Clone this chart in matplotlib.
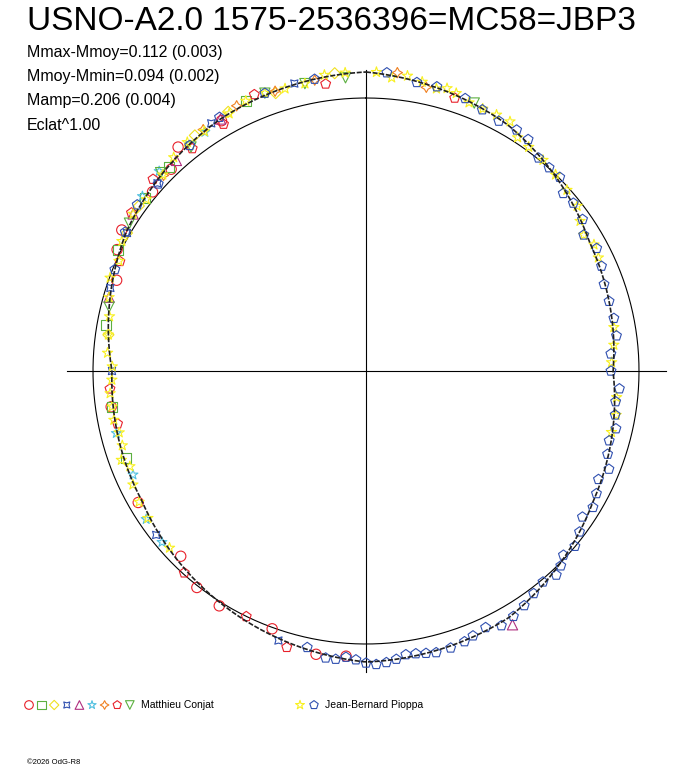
import matplotlib
matplotlib.use('Agg')
import matplotlib.pyplot as plt
import numpy as np

plt.rcParams['font.family'] = ['Liberation Sans', 'DejaVu Sans']

# mean light curve (radius in px, angle clockwise from top in degrees)
knot_angle = [0, 30, 60, 90, 120, 150, 180, 210, 240, 270, 300, 330, 360]
knot_radius = [299, 284, 258, 247, 262, 285, 291, 275, 259, 254, 277, 291, 299]

# Jean-Bernard Pioppa
jb_pent_angle = [20, 28, 35, 42, 48, 55, 62, 70, 78, 86, 94, 100, 106, 112, 118, 124, 130,
                 135, 140, 146, 152, 158, 163, 168, 172, 176, 180, 184, 188, 10, 4, 350, 330, 312, 300,
                 24, 32, 39, 45, 51, 58, 66, 74, 82, 90, 97, 103, 109, 115, 121, 127, 133, 137,
                 143, 149, 155, 160, 166, 170, 174, 178, 182, 186, 192, 14, 340, 322, 306, 292]
jb_pent_res = [1, -2, 3, 0, -3, 2, 4, -1, 2, -3, 5, 1, -2, 4, 0, -4, 3, 2, -2, 1, 3, -1, 2, 0,
               -3, 2, 1, -2, 3, -1, 2, 0, 2, -3, 1,
               -1, 2, -2, 3, 1, -3, 2, 0, 3, -2, 1, 3, -1, -3, 2, 0, -2, 4, -1, 2, -3, 1, 2,
               -2, 0, 3, -1, 2, -2, 1, 2, -1, 3, 0]
jb_star_angle = [2, 8, 14, 18, 24, 30, 36, 44, 52, 58, 64, 352, 344, 336, 326, 318, 308, 298,
                 290, 282, 274, 268, 262, 256, 250, 244, 96, 104, 84, 248, 236,
                 5, 11, 16, 21, 27, 33, 40, 48, 55, 61, 356, 348, 340, 332, 322, 314, 304, 294,
                 286, 278, 271, 265, 259, 253, 240, 228, 80, 88, 100]
jb_star_res = [1, 3, -1, 2, 0, 4, -2, 1, 3, -3, 2, 2, -1, 3, 0, 2, -2, 1, 3, -1, 2, 0, 1, -2,
               3, 1, 2, -1, 0, -3, 2,
               -2, 1, 3, -1, 2, -3, 0, 2, -1, 3, 1, -2, 2, 0, 3, -1, 2, -2, 1, 0, -1, 2, 1,
               -2, 3, -1, 1, -2, 2]

# Matthieu Conjat series
mc_series = [
    ('o', '#e8202a', [290, 300, 310, 320, 330, 240, 225, 212, 200, 190, 296, 316, 262, 218, 184],
     [-4, 5, -3, 6, -2, 4, -5, 3, -6, 2, 3, -4, 2, 4, -3]),
    ('s', '#5cb040', [296, 316, 336, 262, 250, 308, 280], [2, -1, 3, 1, -2, 0, 2]),
    ('D', '#f0e020', [306, 324, 342, 354, 278, 300, 332], [1, 3, -2, 2, 0, -1, 2]),
    ((4, 1, 45), '#3050b0', [300, 328, 346, 270, 232, 312, 288, 198], [-1, 2, 1, 0, 3, -2, 1, 2]),
    ('^', '#b03080', [304, 318, 286, 150, 330], [2, -2, 1, 8, 0]),
    ('*', '#50c0e0', [308, 326, 230, 236, 246, 256, 314], [3, -1, 2, 4, -3, 1, 4]),
    ((4, 1, 0), '#f08020', [314, 334, 350, 6, 12, 326, 342], [-2, 3, -1, 4, -3, 2, 0]),
    ('p', '#e8202a', [294, 312, 330, 338, 352, 18, 222, 206, 196, 266, 258, 304, 322],
     [-3, 4, -6, 5, -7, -3, 3, -4, 5, 2, -2, 4, -5]),
    ('v', '#5cb040', [302, 322, 340, 356, 22, 284, 314, 348], [1, -3, 2, -4, 1, 0, 2, -2]),
]

cx, cy = 366, 371
ref_r = 273


def curve(a):
    return np.interp(np.asarray(a) % 360, knot_angle, knot_radius)


def to_xy(a, r):
    t = np.radians(a)
    return cx + r * np.sin(t), cy - r * np.cos(t)


def size(m, k=1.0):
    return (32 if m == 'D' else 55) * k


fig = plt.figure(figsize=(6.88, 7.68), dpi=100)
ax = fig.add_axes([0, 0, 1, 1])
ax.set_xlim(0, 688)
ax.set_ylim(768, 0)
ax.axis('off')

# axes cross and reference circle
ax.plot([67, 666], [cy, cy], color='black', lw=0.8)
ax.plot([cx, cx], [70, 672], color='black', lw=0.8)
th = np.linspace(0, 360, 400)
x, y = to_xy(th, ref_r)
ax.plot(x, y, color='black', lw=0.8)

mk = dict(facecolors='none', linewidths=0.8, zorder=3)
for m, c, ang, res in mc_series:
    a = np.array(ang)
    px, py = to_xy(a, curve(a) + np.array(res))
    ax.scatter(px, py, marker=m, edgecolors=c, s=size(m), **mk)

a = np.array(jb_star_angle)
px, py = to_xy(a, curve(a) + np.array(jb_star_res))
ax.scatter(px, py, marker='*', edgecolors='#f8f020', s=60, **mk)
a = np.array(jb_pent_angle)
px, py = to_xy(a, curve(a) + np.array(jb_pent_res))
ax.scatter(px, py, marker='p', edgecolors='#3050b0', s=55, **mk)

# mean curve
x, y = to_xy(th, curve(th))
ax.plot(x, y, color='#202020', lw=1.2, ls=(0, (3, 1)), zorder=4)

ax.text(27, 22, 'USNO-A2.0 1575-2536396=MC58=JBP3', fontsize=24, va='center')
for i, s in enumerate(['Mmax-Mmoy=0.112 (0.003)', 'Mmoy-Mmin=0.094 (0.002)',
                       'Mamp=0.206 (0.004)', 'Eclat^1.00']):
    ax.text(27, 52 + 24.5 * i, s, fontsize=11.5, va='center')

# legend
lx = 29
for m, c, _, _ in mc_series:
    ax.scatter([lx], [705], marker=m, edgecolors=c, facecolors='none', s=size(m, 0.7), linewidths=0.8)
    lx += 12.6
ax.text(141, 705, 'Matthieu Conjat', fontsize=7.5, va='center')
ax.scatter([300], [705], marker='*', edgecolors='#f8f020', facecolors='none', s=45, linewidths=0.8)
ax.scatter([314], [705], marker='p', edgecolors='#3050b0', facecolors='none', s=40, linewidths=0.8)
ax.text(325, 705, 'Jean-Bernard Pioppa', fontsize=7.5, va='center')
ax.text(27, 763, '\u00a92026 OdG-R8', fontsize=5.5, va='center')

fig.savefig('out.png', dpi=100)
